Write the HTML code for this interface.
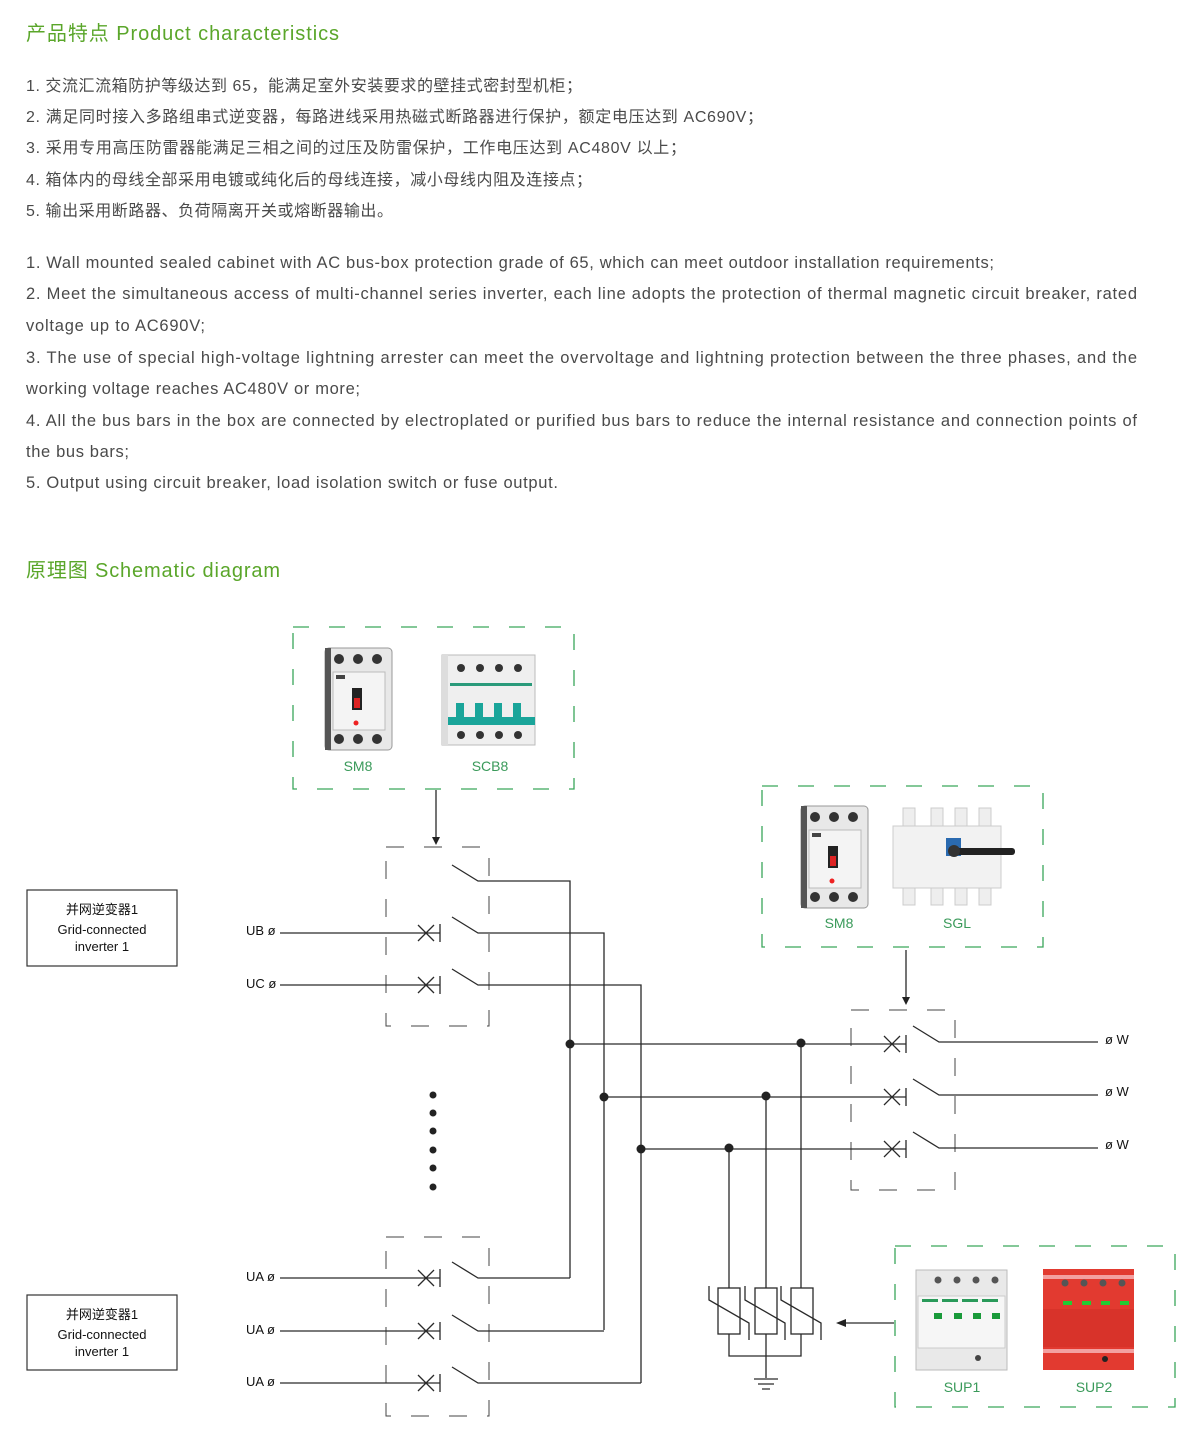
<!DOCTYPE html>
<html><head><meta charset="utf-8"><style>
html,body{margin:0;padding:0;background:#fff;width:1200px;height:1434px;overflow:hidden}
svg{display:block}
.t{font-family:"Liberation Sans","Noto Sans CJK SC",sans-serif;fill:#4a4a4a}
.h{font-family:"Liberation Sans","Noto Sans CJK SC",sans-serif;fill:#5aa62a;font-size:20px}
.g{font-family:"Liberation Sans",sans-serif;fill:#3a9a5a;font-size:14px}
.k{font-family:"Liberation Sans","Noto Sans CJK SC",sans-serif;fill:#111;font-size:13px}
</style></head><body>
<svg width="1200" height="1434" viewBox="0 0 1200 1434" xmlns="http://www.w3.org/2000/svg">
<defs>
<g id="sm8">
 <rect x="0" y="0" width="67" height="102" rx="4" fill="#e8e8e8" stroke="#999"/>
 <rect x="0" y="0" width="6" height="102" fill="#555"/>
 <circle cx="14" cy="11" r="5" fill="#333"/><circle cx="33" cy="11" r="5" fill="#333"/><circle cx="52" cy="11" r="5" fill="#333"/>
 <circle cx="14" cy="91" r="5" fill="#333"/><circle cx="33" cy="91" r="5" fill="#333"/><circle cx="52" cy="91" r="5" fill="#333"/>
 <rect x="8" y="24" width="52" height="58" fill="#f4f4f4" stroke="#bbb"/>
 <rect x="11" y="27" width="9" height="4" fill="#444"/>
 <rect x="27" y="40" width="10" height="22" fill="#222"/><rect x="29" y="50" width="6" height="10" fill="#d22"/>
 <circle cx="31" cy="75" r="2.5" fill="#e22"/>
</g>
</defs>

<text class="h" x="26" y="40" textLength="313">产品特点 Product characteristics</text>

<g class="t" font-size="16">
<text x="26" y="91" textLength="556">1. 交流汇流箱防护等级达到 65，能满足室外安装要求的壁挂式密封型机柜；</text>
<text x="26" y="122" textLength="737">2. 满足同时接入多路组串式逆变器，每路进线采用热磁式断路器进行保护，额定电压达到 AC690V；</text>
<text x="26" y="153" textLength="660">3. 采用专用高压防雷器能满足三相之间的过压及防雷保护，工作电压达到 AC480V 以上；</text>
<text x="26" y="185" textLength="566">4. 箱体内的母线全部采用电镀或纯化后的母线连接，减小母线内阻及连接点；</text>
<text x="26" y="216" textLength="367">5. 输出采用断路器、负荷隔离开关或熔断器输出。</text>
</g>
<g class="t" font-size="16.5">
<text x="26" y="268" textLength="968">1. Wall mounted sealed cabinet with AC bus-box protection grade of 65, which can meet outdoor installation requirements;</text>
<text x="26" y="299" textLength="1111">2. Meet the simultaneous access of multi-channel series inverter, each line adopts the protection of thermal magnetic circuit breaker, rated</text>
<text x="26" y="331" textLength="179">voltage up to AC690V;</text>
<text x="26" y="363" textLength="1111">3. The use of special high-voltage lightning arrester can meet the overvoltage and lightning protection between the three phases, and the</text>
<text x="26" y="394" textLength="334">working voltage reaches AC480V or more;</text>
<text x="26" y="426" textLength="1111">4. All the bus bars in the box are connected by electroplated or purified bus bars to reduce the internal resistance and connection points of</text>
<text x="26" y="457" textLength="103">the bus bars;</text>
<text x="26" y="488" textLength="532">5. Output using circuit breaker, load isolation switch or fuse output.</text>
</g>

<text class="h" x="26" y="577" textLength="254">原理图 Schematic diagram</text>

<!-- green dashed boxes -->
<g fill="none" stroke="#3aa65a" stroke-width="1.3" stroke-dasharray="16,20">
<rect x="293" y="627" width="281" height="162"/>
<rect x="762" y="786" width="281" height="161"/>
<rect x="895" y="1246" width="280" height="161"/>
</g>

<!-- products top -->
<use href="#sm8" x="325" y="648"/>
<g transform="translate(442,655)">
 <rect x="0" y="0" width="93" height="90" fill="#efefef" stroke="#bbb"/>
 <rect x="0" y="0" width="6" height="90" fill="#ddd"/>
 <circle cx="19" cy="13" r="4" fill="#333"/><circle cx="38" cy="13" r="4" fill="#333"/><circle cx="57" cy="13" r="4" fill="#333"/><circle cx="76" cy="13" r="4" fill="#333"/>
 <circle cx="19" cy="80" r="4" fill="#333"/><circle cx="38" cy="80" r="4" fill="#333"/><circle cx="57" cy="80" r="4" fill="#333"/><circle cx="76" cy="80" r="4" fill="#333"/>
 <rect x="8" y="28" width="82" height="3" fill="#2a9a7a"/>
 <rect x="14" y="48" width="8" height="20" fill="#1aa59a"/><rect x="33" y="48" width="8" height="20" fill="#1aa59a"/><rect x="52" y="48" width="8" height="20" fill="#1aa59a"/><rect x="71" y="48" width="8" height="20" fill="#1aa59a"/>
 <rect x="6" y="62" width="87" height="8" fill="#1aa59a"/>
</g>
<text class="g" x="358" y="771" text-anchor="middle">SM8</text>
<text class="g" x="490" y="771" text-anchor="middle">SCB8</text>

<!-- products right -->
<use href="#sm8" x="801" y="806"/>
<g transform="translate(893,808)">
 <rect x="10" y="0" width="12" height="22" fill="#eee" stroke="#ccc"/><rect x="38" y="0" width="12" height="22" fill="#eee" stroke="#ccc"/><rect x="62" y="0" width="12" height="22" fill="#eee" stroke="#ccc"/><rect x="86" y="0" width="12" height="22" fill="#eee" stroke="#ccc"/>
 <rect x="10" y="75" width="12" height="22" fill="#eee" stroke="#ccc"/><rect x="38" y="75" width="12" height="22" fill="#eee" stroke="#ccc"/><rect x="62" y="75" width="12" height="22" fill="#eee" stroke="#ccc"/><rect x="86" y="75" width="12" height="22" fill="#eee" stroke="#ccc"/>
 <rect x="0" y="18" width="108" height="62" fill="#f2f2f2" stroke="#ccc"/>
 <rect x="53" y="30" width="15" height="18" fill="#2a6ab0"/>
 <rect x="58" y="40" width="64" height="7" rx="3" fill="#222"/>
 <circle cx="61" cy="43" r="6" fill="#333"/>
</g>
<text class="g" x="839" y="928" text-anchor="middle">SM8</text>
<text class="g" x="957" y="928" text-anchor="middle">SGL</text>

<!-- products bottom -->
<g transform="translate(916,1270)">
 <rect x="0" y="0" width="91" height="100" fill="#e9e9e9" stroke="#bbb"/>
 <circle cx="22" cy="10" r="3.5" fill="#555"/><circle cx="41" cy="10" r="3.5" fill="#555"/><circle cx="60" cy="10" r="3.5" fill="#555"/><circle cx="79" cy="10" r="3.5" fill="#555"/>
 <rect x="2" y="26" width="87" height="52" fill="#f6f6f6" stroke="#ccc"/>
 <rect x="6" y="29" width="16" height="3" fill="#2a9a5a"/><rect x="26" y="29" width="16" height="3" fill="#2a9a5a"/><rect x="46" y="29" width="16" height="3" fill="#2a9a5a"/><rect x="66" y="29" width="16" height="3" fill="#2a9a5a"/>
 <rect x="18" y="43" width="8" height="6" fill="#1a9a3a"/><rect x="38" y="43" width="8" height="6" fill="#1a9a3a"/><rect x="57" y="43" width="8" height="6" fill="#1a9a3a"/><rect x="76" y="43" width="8" height="6" fill="#1a9a3a"/>
 <circle cx="62" cy="88" r="3" fill="#444"/>
</g>
<g transform="translate(1043,1269)">
 <rect x="0" y="0" width="91" height="101" fill="#e23a30"/>
 <rect x="0" y="6" width="91" height="4" fill="#f3a0a0"/><rect x="0" y="80" width="91" height="4" fill="#f3a0a0"/>
 <circle cx="22" cy="14" r="3.5" fill="#555"/><circle cx="41" cy="14" r="3.5" fill="#555"/><circle cx="60" cy="14" r="3.5" fill="#555"/><circle cx="79" cy="14" r="3.5" fill="#555"/>
 <rect x="20" y="32" width="9" height="4" fill="#2c3"/><rect x="39" y="32" width="9" height="4" fill="#2c3"/><rect x="58" y="32" width="9" height="4" fill="#2c3"/><rect x="77" y="32" width="9" height="4" fill="#2c3"/>
 <rect x="0" y="40" width="91" height="38" fill="#d8332a"/>
 <circle cx="62" cy="90" r="3" fill="#222"/>
</g>
<text class="g" x="962" y="1392" text-anchor="middle">SUP1</text>
<text class="g" x="1094" y="1392" text-anchor="middle">SUP2</text>

<!-- inverter boxes -->
<g fill="none" stroke="#333" stroke-width="1.2">
<rect x="27" y="890" width="150" height="76"/>
<rect x="27" y="1295" width="150" height="75"/>
</g>
<g class="k" text-anchor="middle">
<text x="102" y="914">并网逆变器1</text><text x="102" y="934">Grid-connected</text><text x="102" y="951">inverter 1</text>
<text x="102" y="1319">并网逆变器1</text><text x="102" y="1339">Grid-connected</text><text x="102" y="1356">inverter 1</text>
</g>

<!-- breaker dashed boxes -->
<g fill="none" stroke="#444" stroke-width="1" stroke-dasharray="18,20">
<rect x="386" y="847" width="103" height="179"/>
<rect x="386" y="1237" width="103" height="179"/>
<rect x="851" y="1010" width="104" height="180"/>
</g>

<g stroke="#2a2a2a" stroke-width="1.3" fill="none">
<!-- arrows -->
<line x1="436" y1="790" x2="436" y2="838"/>
<line x1="906" y1="950" x2="906" y2="998"/>
<line x1="894" y1="1323" x2="846" y2="1323"/>

<!-- top breaker -->
<path d="M452 865 L478 881 H570 V1278"/>
<path d="M280 933 H440 M440 924 V942 M418 925 L434 941 M434 925 L418 941 M452 917 L478 933 H604 V1330"/>
<path d="M280 985 H440 M440 976 V994 M418 977 L434 993 M434 977 L418 993 M452 969 L478 985 H641 V1383"/>
<!-- bottom breaker -->
<path d="M280 1278 H440 M440 1269 V1287 M418 1270 L434 1286 M434 1270 L418 1286 M452 1262 L478 1278 H570"/>
<path d="M280 1331 H440 M440 1322 V1340 M418 1323 L434 1339 M434 1323 L418 1339 M452 1315 L478 1331 H604"/>
<path d="M280 1383 H440 M440 1374 V1392 M418 1375 L434 1391 M434 1375 L418 1391 M452 1367 L478 1383 H641"/>
<!-- horizontal buses -->
<path d="M570 1044 H906 M906 1035 V1053 M884 1036 L900 1052 M900 1036 L884 1052 M913 1026 L939 1042 H1098"/>
<path d="M604 1097 H906 M906 1088 V1106 M884 1089 L900 1105 M900 1089 L884 1105 M913 1079 L939 1095 H1098"/>
<path d="M641 1149 H906 M906 1140 V1158 M884 1141 L900 1157 M900 1141 L884 1157 M913 1132 L939 1148 H1098"/>
<!-- SPD verticals -->
<path d="M801 1044 V1288 M766 1097 V1288 M729 1149 V1288"/>
<rect x="718" y="1288" width="22" height="46"/>
<rect x="755" y="1288" width="22" height="46"/>
<rect x="791" y="1288" width="22" height="46"/>
<path d="M709 1286 V1300 L749 1323 V1340 M745 1286 V1300 L785 1323 V1340 M781 1286 V1300 L821 1323 V1340"/>
<path d="M729 1334 V1356 H801 V1334 M766 1334 V1378"/>
<path d="M754 1379 H778 M758 1384 H774 M762 1389 H770"/>
</g>
<g fill="#222">
<path d="M432 837 L440 837 L436 845 Z"/>
<path d="M902 997 L910 997 L906 1005 Z"/>
<path d="M846 1319 L846 1327 L836 1323 Z"/>
<circle cx="570" cy="1044" r="4.5"/><circle cx="801" cy="1043" r="4.5"/>
<circle cx="604" cy="1097" r="4.5"/><circle cx="766" cy="1096" r="4.5"/>
<circle cx="641" cy="1149" r="4.5"/><circle cx="729" cy="1148" r="4.5"/>
<circle cx="433" cy="1095" r="3.5"/><circle cx="433" cy="1113" r="3.5"/><circle cx="433" cy="1131" r="3.5"/><circle cx="433" cy="1150" r="3.5"/><circle cx="433" cy="1168" r="3.5"/><circle cx="433" cy="1187" r="3.5"/>
</g>
<g class="k">
<text x="246" y="935">UB ø</text><text x="246" y="988">UC ø</text>
<text x="246" y="1281">UA ø</text><text x="246" y="1334">UA ø</text><text x="246" y="1386">UA ø</text>
<text x="1105" y="1044">ø W</text><text x="1105" y="1096">ø W</text><text x="1105" y="1149">ø W</text>
</g>
</svg>
</body></html>
